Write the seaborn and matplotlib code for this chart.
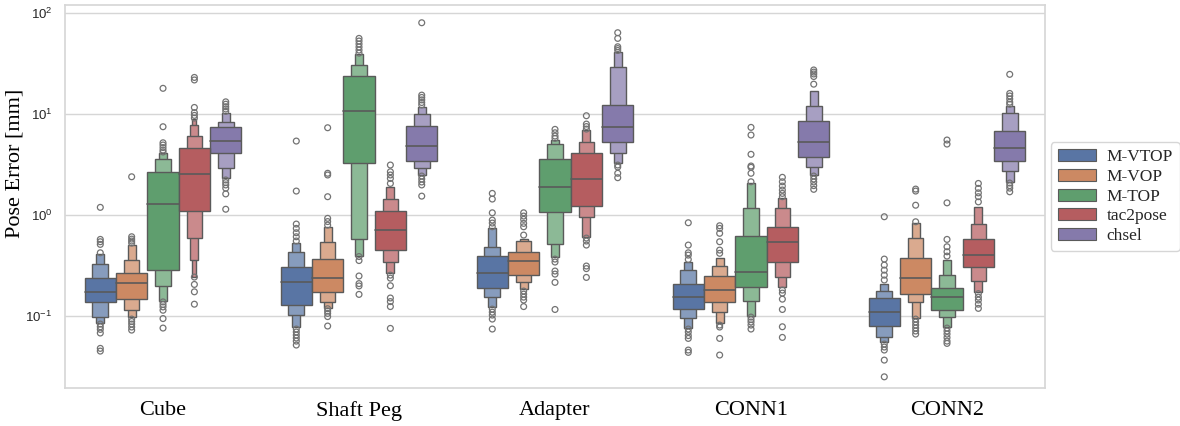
import matplotlib
matplotlib.use("Agg")
import matplotlib.pyplot as plt
from matplotlib.patches import Patch
import numpy as np
import pandas as pd
import seaborn as sns

# objects on the x axis and the compared methods (hue)
objects = ["Cube", "Shaft Peg", "Adapter", "CONN1", "CONN2"]
methods = ["M-VTOP", "M-VOP", "M-TOP", "tac2pose", "chsel"]

# letter values [mm], per object, one entry per method
# levels are (low, high) pairs, innermost box first
cube_median = [0.176, 0.215, 1.31, 2.59, 5.48]
cube_levels = [
    [(0.138, 0.241), (0.0977, 0.333), (0.0865, 0.414)],
    [(0.148, 0.270), (0.115, 0.361), (0.0977, 0.508)],
    [(0.285, 2.67), (0.201, 3.63), (0.141, 4.11)],
    [(1.10, 4.61), (0.592, 6.10), (0.361, 7.83), (0.247, 8.98)],
    [(4.17, 7.43), (2.92, 8.33), (2.32, 10.2)],
]
cube_fliers = [
    [1.20, 0.578, 0.548, 0.516, 0.426, 0.0839, 0.0789, 0.0743, 0.0684, 0.0482, 0.0453],
    [2.41, 0.614, 0.582, 0.557, 0.532, 0.094, 0.0889, 0.0839, 0.0784, 0.0731],
    [18.1, 7.54, 5.23, 4.97, 4.69, 4.43, 4.24, 0.139, 0.131, 0.124, 0.115, 0.0951, 0.0766],
    [23.2, 21.9, 11.7, 10.4, 9.77, 9.19, 0.245, 0.207, 0.175, 0.132],
    [13.3, 12.6, 11.9, 11.3, 10.7, 2.24, 2.11, 2.00, 1.86, 1.63, 1.15],
]

peg_median = [0.220, 0.238, 10.9, 0.715, 4.89]
peg_levels = [
    [(0.131, 0.305), (0.103, 0.430), (0.0789, 0.536)],
    [(0.175, 0.369), (0.138, 0.541), (0.122, 0.760)],
    [(3.32, 24.1), (0.578, 30.5), (0.398, 39.3)],
    [(0.453, 1.10), (0.347, 1.44), (0.267, 1.92)],
    [(3.47, 7.71), (2.92, 10.0), (2.51, 11.9)],
]
peg_fliers = [
    [5.44, 1.74, 0.820, 0.743, 0.673, 0.614, 0.557, 0.0749, 0.0700, 0.0653, 0.0610, 0.0569, 0.0520],
    [7.37, 2.61, 2.51, 1.53, 0.934, 0.868, 0.801, 0.119, 0.113, 0.107, 0.0995, 0.0802],
    [56.5, 53.2, 49.7, 46.4, 43.3, 40.4, 0.391, 0.357, 0.251, 0.211, 0.200, 0.165],
    [3.15, 2.70, 2.51, 2.32, 2.07, 0.256, 0.239, 0.201, 0.152, 0.140, 0.125, 0.0760],
    [80.7, 15.5, 14.7, 13.9, 13.1, 12.4, 2.45, 2.29, 2.14, 2.00, 1.55],
]

adapter_median = [0.270, 0.353, 1.92, 2.29, 7.54]
adapter_levels = [
    [(0.192, 0.395), (0.154, 0.489), (0.123, 0.743)],
    [(0.256, 0.436), (0.220, 0.557), (0.185, 0.590)],
    [(1.09, 3.58), (0.520, 5.05), (0.384, 5.57)],
    [(1.25, 4.11), (0.969, 5.28), (0.614, 6.99)],
    [(5.28, 12.3), (4.17, 29.2), (3.27, 41.7)],
]
adapter_fliers = [
    [1.65, 1.45, 1.06, 0.898, 0.839, 0.771, 0.118, 0.110, 0.103, 0.094, 0.0749],
    [1.06, 0.984, 0.913, 0.833, 0.771, 0.638, 0.178, 0.166, 0.155, 0.145, 0.125],
    [7.10, 6.57, 6.10, 5.78, 0.369, 0.345, 0.281, 0.262, 0.217, 0.117],
    [9.69, 8.01, 7.57, 7.15, 0.596, 0.557, 0.508, 0.315, 0.297, 0.243],
    [64.3, 56.5, 46.7, 44.8, 42.9, 3.15, 3.01, 2.61, 2.36],
]

conn1_median = [0.154, 0.182, 0.277, 0.548, 5.35]
conn1_levels = [
    [(0.118, 0.209), (0.0968, 0.287), (0.0771, 0.347)],
    [(0.138, 0.251), (0.110, 0.315), (0.0853, 0.380)],
    [(0.196, 0.628), (0.142, 1.19), (0.101, 2.10)],
    [(0.347, 0.760), (0.243, 1.17), (0.194, 1.47)],
    [(3.75, 8.64), (2.99, 12.2), (2.51, 17.1)],
]
conn1_fliers = [
    [0.845, 0.508, 0.426, 0.404, 0.366, 0.0749, 0.0700, 0.0645, 0.0605, 0.0464, 0.0440],
    [0.789, 0.743, 0.664, 0.548, 0.453, 0.421, 0.0820, 0.0784, 0.0605, 0.0414],
    [7.43, 6.24, 4.02, 3.08, 2.99, 2.61, 2.15, 0.0984, 0.0929, 0.0879, 0.0820, 0.0749],
    [2.38, 2.15, 1.95, 1.78, 1.65, 1.53, 0.182, 0.170, 0.148, 0.117, 0.0789, 0.0619],
    [27.5, 26.2, 25.1, 23.7, 19.9, 2.45, 2.29, 2.14, 1.97, 1.81],
]

conn2_median = [0.111, 0.238, 0.156, 0.404, 4.61]
conn2_levels = [
    [(0.0807, 0.151), (0.0628, 0.178), (0.0553, 0.207)],
    [(0.165, 0.380), (0.140, 0.592), (0.0968, 0.833)],
    [(0.115, 0.189), (0.0991, 0.256), (0.0789, 0.361)],
    [(0.305, 0.578), (0.224, 0.820), (0.173, 1.22)],
    [(3.47, 6.88), (2.75, 10.2), (2.15, 12.2)],
]
conn2_fliers = [
    [0.969, 0.369, 0.322, 0.287, 0.256, 0.229, 0.0532, 0.0497, 0.0464, 0.0369, 0.0252],
    [1.82, 1.74, 1.26, 0.864, 0.094, 0.0879, 0.0820, 0.0766, 0.0716, 0.0668],
    [5.57, 5.08, 1.33, 0.578, 0.489, 0.436, 0.395, 0.0766, 0.0716, 0.0668, 0.0617, 0.0569, 0.0540],
    [2.07, 1.85, 1.67, 1.53, 1.36, 0.168, 0.155, 0.145, 0.132, 0.120],
    [24.9, 16.1, 15.2, 14.2, 13.2, 12.6, 2.09, 1.97, 1.86, 1.71],
]

medians = [cube_median, peg_median, adapter_median, conn1_median, conn2_median]
levels = [cube_levels, peg_levels, adapter_levels, conn1_levels, conn2_levels]
fliers = [cube_fliers, peg_fliers, adapter_fliers, conn1_fliers, conn2_fliers]

sns.set_theme(style="whitegrid")
plt.rcParams['font.family'] = ['Liberation Sans', 'DejaVu Sans']
serif = ['Liberation Serif', 'DejaVu Serif']

palette = [sns.desaturate(c, 0.75) for c in sns.color_palette("deep", 5)]
line_col = '#5a5a5a'

fig = plt.figure(figsize=(11.8, 4.26), dpi=100)
ax = fig.add_axes([0.0551, 0.0885, 0.8305, 0.8998])

# outliers: long-form table, dodged by seaborn's categorical axis
rows = []
for i, obj in enumerate(objects):
    for j, m in enumerate(methods):
        for v in fliers[i][j]:
            rows.append((obj, m, v))
flier_df = pd.DataFrame(rows, columns=["object", "method", "error"])
sns.stripplot(data=flier_df, x="object", y="error", hue="method",
              order=objects, hue_order=methods, dodge=True, jitter=False,
              palette={m: (1, 1, 1, 0) for m in methods}, edgecolor='0.45',
              linewidth=0.9, size=4.2, legend=False, ax=ax, zorder=4)
ax.set_yscale('log')

# letter-value boxes, outer levels narrower and lighter
n_hue = len(methods)
box_w = 0.8 / n_hue
for i in range(len(objects)):
    for j in range(n_hue):
        x = i - 0.4 + box_w * (j + 0.5)
        col = palette[j]
        light = tuple(np.array(col) * 0.72 + 0.28)
        lv = levels[i][j]
        for k in range(len(lv) - 1, -1, -1):
            lo, hi = lv[k]
            w = box_w * 0.5 ** k
            ax.bar(x, hi - lo, bottom=lo, width=w, color=col if k == 0 else light,
                   edgecolor=line_col, linewidth=1.0, zorder=2 + (len(lv) - k) * 0.01)
        ax.plot([x - box_w / 2, x + box_w / 2], [medians[i][j]] * 2,
                color=line_col, linewidth=1.2, zorder=3)

ax.set_xlim(-0.5, len(objects) - 0.5)
ax.set_ylim(0.0194, 121)
ax.grid(axis='x', visible=False)
ax.grid(axis='y', color='0.84', linewidth=1.0)
for s in ax.spines.values():
    s.set_color('0.84')
    s.set_linewidth(1.2)

ax.set_xlabel('')
ax.set_ylabel('Pose Error [mm]', fontsize=16, family=serif, color='black')
ax.yaxis.set_label_coords(-0.041, 0.586)
ax.set_xticks(range(len(objects)))
ax.set_xticklabels(objects, fontsize=16, family=serif, color='black')
ax.tick_params(axis='y', labelsize=9.5, colors='0.15', pad=3)
ax.tick_params(axis='x', pad=3)

handles = [Patch(facecolor=palette[j], edgecolor=line_col, linewidth=0.8, label=m)
           for j, m in enumerate(methods)]
ax.legend(handles=handles, loc='center left', bbox_to_anchor=(1.006, 0.5),
          prop={'family': serif, 'size': 12.5}, frameon=True, edgecolor='0.8',
          labelspacing=0.2, handlelength=2.2, borderpad=0.4, handletextpad=0.6,
          borderaxespad=0.0)

fig.savefig('out.png', dpi=100)
